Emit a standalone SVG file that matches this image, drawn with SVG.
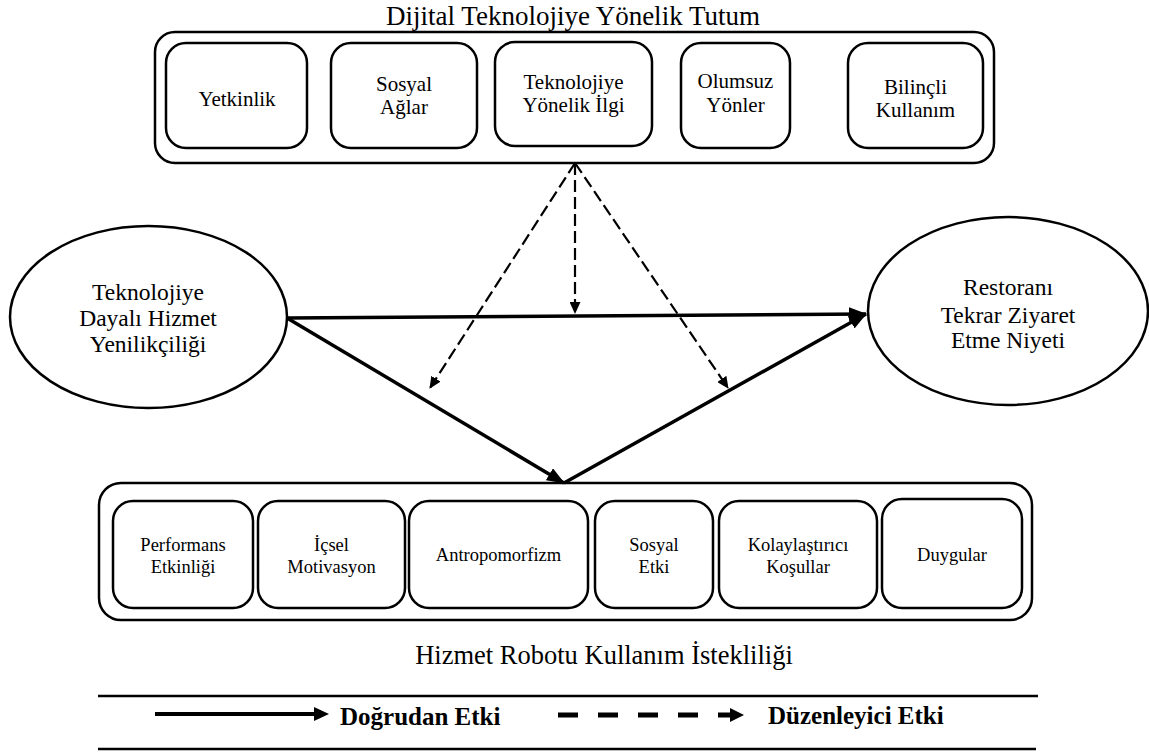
<svg xmlns="http://www.w3.org/2000/svg" width="1149" height="754" viewBox="0 0 1149 754" font-family="Liberation Serif, Times New Roman, serif">
<style>
.box{fill:#fff;stroke:#000;stroke-width:2.5}
.cont{fill:#fff;stroke:#000;stroke-width:2.5}
.t{fill:#000;text-anchor:middle}
.top{font-size:21px}
.bot{font-size:18.5px}
.ell{font-size:23.5px}
.ttl{font-size:27px}
.sub{font-size:26.5px}
.leg{font-weight:bold;font-size:25px;fill:#000}
.solid{stroke:#000;stroke-width:3.5;fill:none}
.dash{stroke:#000;stroke-width:2.2;fill:none;stroke-dasharray:12 5}
</style>
<defs>
<marker id="hs" markerUnits="userSpaceOnUse" markerWidth="18" markerHeight="14" refX="17" refY="7" orient="auto"><path d="M0,0 L18,7 L0,14 z" fill="#000"/></marker>
<marker id="hd" markerUnits="userSpaceOnUse" markerWidth="12" markerHeight="11" refX="11" refY="5.5" orient="auto"><path d="M0,0 L12,5.5 L0,11 z" fill="#000"/></marker>
</defs>
<rect width="1149" height="754" fill="#fff"/>

<g id="top-group">
<text class="t ttl" x="573" y="25" font-family="Liberation Serif">Dijital Teknolojiye Yönelik Tutum</text>
<rect class="cont" x="155" y="32" width="839" height="131" rx="20"/>
</g>
<g id="yetkinlik"><rect class="box" x="166" y="43" width="141" height="105" rx="20"/><text class="t top" x="237" y="106">Yetkinlik</text></g>
<g id="sosyal-aglar"><rect class="box" x="331" y="43" width="146" height="105" rx="20"/><text class="t top" x="404" y="91">Sosyal</text><text class="t top" x="404" y="114">Ağlar</text></g>
<g id="ilgi"><rect class="box" x="495" y="42" width="157" height="104" rx="20"/><text class="t top" x="573.5" y="89">Teknolojiye</text><text class="t top" x="573.5" y="112">Yönelik İlgi</text></g>
<g id="olumsuz"><rect class="box" x="681" y="43" width="109" height="105" rx="20"/><text class="t top" x="735.5" y="88">Olumsuz</text><text class="t top" x="735.5" y="112">Yönler</text></g>
<g id="bilincli"><rect class="box" x="848" y="43" width="135" height="105" rx="20"/><text class="t top" x="915.5" y="94">Bilinçli</text><text class="t top" x="915.5" y="117">Kullanım</text></g>

<g id="tdhy"><ellipse class="box" cx="148.5" cy="317" rx="138.5" ry="91"/>
<text class="t ell" x="148" y="300">Teknolojiye</text><text class="t ell" x="148" y="326">Dayalı Hizmet</text><text class="t ell" x="148" y="352">Yenilikçiliği</text></g>
<g id="rtzen"><ellipse class="box" cx="1008" cy="311" rx="140" ry="94"/>
<text class="t ell" x="1008" y="295">Restoranı</text><text class="t ell" x="1008" y="323">Tekrar Ziyaret</text><text class="t ell" x="1008" y="348">Etme Niyeti</text></g>

<g id="bottom-group">
<rect class="cont" x="99" y="483" width="933" height="137" rx="22"/>
<text class="t sub" x="604" y="664">Hizmet Robotu Kullanım İstekliliği</text>
</g>
<g id="performans"><rect class="box" x="113" y="501" width="140" height="107" rx="20"/><text class="t bot" x="183" y="551">Performans</text><text class="t bot" x="183" y="573">Etkinliği</text></g>
<g id="icsel"><rect class="box" x="258" y="501" width="147" height="107" rx="20"/><text class="t bot" x="331.5" y="551">İçsel</text><text class="t bot" x="331.5" y="573">Motivasyon</text></g>
<g id="antropo"><rect class="box" x="409" y="501" width="179" height="107" rx="20"/><text class="t bot" x="498.5" y="561">Antropomorfizm</text></g>
<g id="sosyal-etki"><rect class="box" x="595" y="501" width="118" height="107" rx="20"/><text class="t bot" x="654" y="551">Sosyal</text><text class="t bot" x="654" y="573">Etki</text></g>
<g id="kolay"><rect class="box" x="719" y="501" width="158" height="107" rx="20"/><text class="t bot" x="798" y="551">Kolaylaştırıcı</text><text class="t bot" x="798" y="573">Koşullar</text></g>
<g id="duygular"><rect class="box" x="882" y="499" width="140" height="109" rx="20"/><text class="t bot" x="952" y="561">Duygular</text></g>

<g id="connectors">
<line class="solid" x1="287" y1="318" x2="866" y2="314" marker-end="url(#hs)"/>
<line class="solid" x1="287" y1="318" x2="564" y2="483" marker-end="url(#hs)"/>
<line class="solid" x1="564" y1="483" x2="866" y2="314" marker-end="url(#hs)"/>
<line class="dash" x1="575" y1="163" x2="575" y2="313" marker-end="url(#hd)"/>
<line class="dash" x1="575" y1="163" x2="430" y2="388" marker-end="url(#hd)"/>
<line class="dash" x1="575" y1="163" x2="728" y2="388" marker-end="url(#hd)"/>
</g>

<g id="legend">
<line x1="98" y1="696" x2="1038" y2="696" stroke="#000" stroke-width="2.5"/>
<line x1="98" y1="749" x2="1036" y2="749" stroke="#000" stroke-width="2.5"/>
<line x1="155" y1="714" x2="316" y2="714" stroke="#000" stroke-width="4"/>
<path d="M314,707 L329,714 L314,721 z" fill="#000"/>
<text class="leg" x="340" y="725">Doğrudan Etki</text>
<line x1="558" y1="715" x2="732" y2="715" stroke="#000" stroke-width="5" stroke-dasharray="20 20"/>
<path d="M730,708 L744,715 L730,722 z" fill="#000"/>
<text class="leg" x="768" y="724">Düzenleyici Etki</text>
</g>
</svg>
